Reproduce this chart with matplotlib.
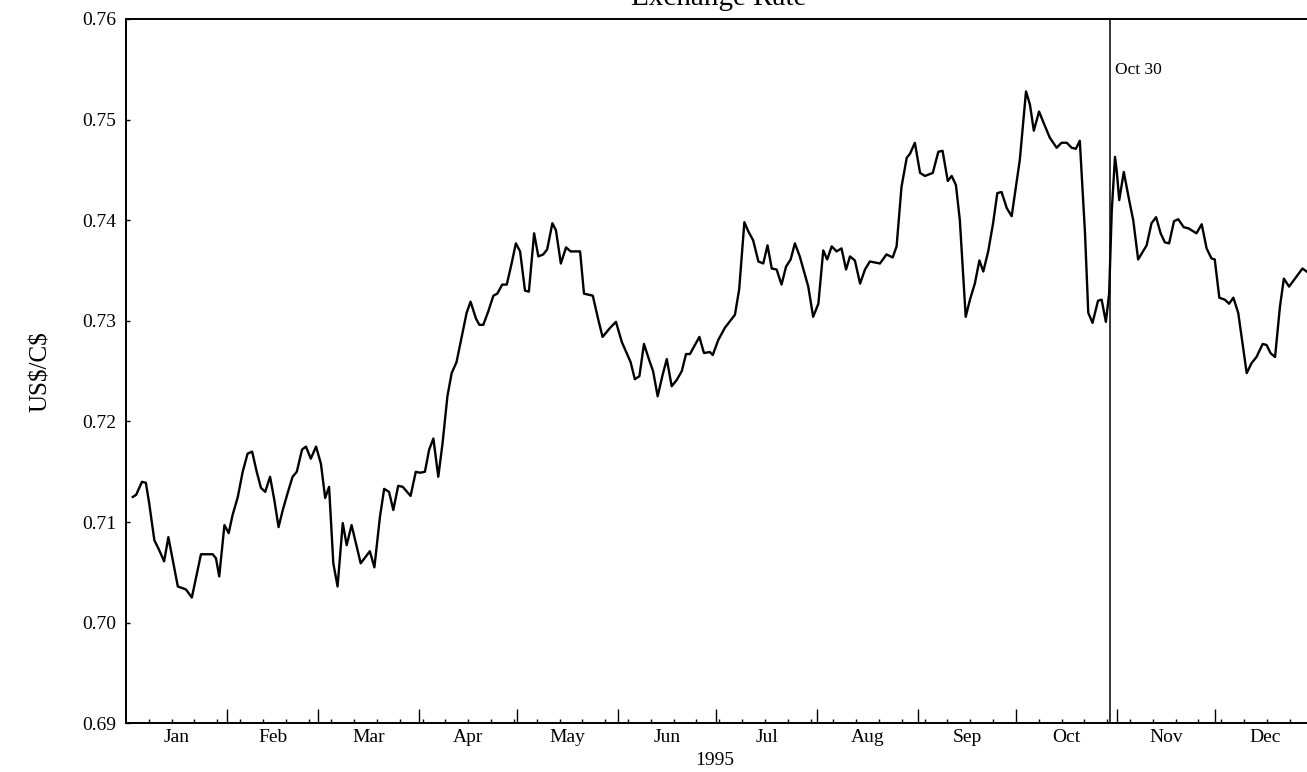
import matplotlib
matplotlib.use("Agg")
import matplotlib.pyplot as plt
import matplotlib.transforms as mtransforms

plt.rcParams["font.family"] = ["Liberation Serif", "DejaVu Serif"]

# day of year 1995 (Jan 1 = 0) and US$/C$ rate
days = [2.1, 3.1, 4.9, 6.1, 7.1, 8.7, 10.2, 11.7, 13.0, 15.9, 18.4, 20.2, 23.0, 26.6,
        27.6, 28.6, 30.2, 31.5, 32.7, 34.3, 35.8, 37.3, 38.7, 40.1, 41.4, 42.7, 44.2,
        45.5, 46.8, 48.1, 49.6, 51.1, 52.4, 54.0, 55.2, 56.7, 58.3, 59.8, 61.1, 62.3,
        63.6, 64.9, 66.5, 67.7, 69.2, 72.0, 74.8, 76.2, 77.9, 79.2, 80.7, 82.0, 83.5,
        84.9, 87.3, 88.9, 90.2, 91.7, 93.0, 94.3, 95.8, 97.1, 98.6, 99.9, 101.4, 104.5,
        105.7, 107.4, 108.4, 109.6, 111.1, 112.7, 113.9, 115.4, 116.8, 118.3, 119.6,
        120.9, 122.4, 123.6, 125.2, 126.5, 128.0, 129.2, 130.8, 131.9, 133.4, 135.0,
        136.4, 139.3, 140.5, 143.2, 144.9, 146.2, 148.5, 150.3, 152.1, 154.8, 156.1,
        157.5, 158.9, 160.5, 161.7, 163.1, 164.6, 165.9, 167.4, 168.9, 170.5, 171.8,
        173.0, 175.9, 177.3, 179.1, 180.0, 181.7, 183.7, 186.8, 188.1, 189.7, 190.9,
        192.4, 194.0, 195.5, 196.8, 198.1, 199.6, 201.1, 202.5, 203.9, 205.2, 206.7,
        209.3, 210.8, 212.4, 213.9, 215.1, 216.5, 218.0, 219.5, 220.9, 222.1, 223.6,
        225.2, 226.7, 228.2, 231.3, 233.3, 235.2, 236.4, 237.9, 239.5, 240.5, 242.0,
        243.6, 245.1, 247.5, 249.2, 250.5, 252.1, 253.3, 254.6, 255.8, 257.6, 258.9,
        260.4, 261.8, 263.0, 264.5, 266.0, 267.3, 268.6, 270.2, 271.7, 274.2, 276.1,
        277.3, 278.5, 280.1, 281.6, 283.4, 285.5, 287.0, 288.6, 290.1, 291.4, 292.6,
        294.2, 295.2, 296.5, 298.2, 299.3, 300.6, 301.6, 302.4, 303.4, 303.9, 304.7,
        306.1, 307.8, 309.0, 310.5, 313.1, 314.6, 316.0, 317.4, 318.7, 320.0, 321.5,
        322.8, 324.5, 325.9, 328.4, 330.0, 331.5, 333.0, 334.0, 335.4, 337.1, 338.4,
        339.7, 341.2, 343.8, 345.3, 346.8, 348.7, 349.9, 351.1, 352.5, 354.0, 355.2,
        356.8, 359.1, 360.9, 362.2]
rate = [0.7125, 0.7127, 0.7140, 0.7139, 0.7119, 0.7082, 0.7072, 0.7061, 0.7085, 0.7036,
        0.7033, 0.7025, 0.7068, 0.7068, 0.7064, 0.7046, 0.7097, 0.7089, 0.7107, 0.7125,
        0.7150, 0.7168, 0.7170, 0.7150, 0.7134, 0.7130, 0.7145, 0.7122, 0.7095, 0.7112,
        0.7129, 0.7145, 0.7150, 0.7172, 0.7175, 0.7163, 0.7175, 0.7158, 0.7124, 0.7135,
        0.7059, 0.7036, 0.7099, 0.7077, 0.7097, 0.7059, 0.7071, 0.7055, 0.7105, 0.7133,
        0.7130, 0.7112, 0.7136, 0.7135, 0.7126, 0.7150, 0.7149, 0.7150, 0.7172, 0.7183,
        0.7145, 0.7178, 0.7225, 0.7248, 0.7259, 0.7308, 0.7319, 0.7302, 0.7296, 0.7296,
        0.7309, 0.7325, 0.7327, 0.7336, 0.7336, 0.7357, 0.7377, 0.7369, 0.7330, 0.7329,
        0.7387, 0.7364, 0.7366, 0.7371, 0.7397, 0.7390, 0.7357, 0.7373, 0.7369, 0.7369,
        0.7327, 0.7325, 0.7301, 0.7284, 0.7293, 0.7299, 0.7279, 0.7259, 0.7242, 0.7245,
        0.7277, 0.7261, 0.7250, 0.7225, 0.7246, 0.7262, 0.7235, 0.7241, 0.7250, 0.7267,
        0.7267, 0.7284, 0.7268, 0.7269, 0.7266, 0.7281, 0.7293, 0.7306, 0.7331, 0.7398,
        0.7389, 0.7380, 0.7359, 0.7357, 0.7375, 0.7352, 0.7351, 0.7336, 0.7354, 0.7361,
        0.7377, 0.7364, 0.7334, 0.7304, 0.7317, 0.7370, 0.7361, 0.7374, 0.7369, 0.7372,
        0.7351, 0.7364, 0.7360, 0.7337, 0.7351, 0.7359, 0.7357, 0.7366, 0.7363, 0.7374,
        0.7433, 0.7462, 0.7466, 0.7477, 0.7447, 0.7444, 0.7447, 0.7468, 0.7469, 0.7439,
        0.7444, 0.7435, 0.7400, 0.7304, 0.7321, 0.7337, 0.7360, 0.7349, 0.7369, 0.7397,
        0.7427, 0.7428, 0.7412, 0.7404, 0.7460, 0.7528, 0.7515, 0.7489, 0.7508, 0.7496,
        0.7482, 0.7472, 0.7477, 0.7477, 0.7472, 0.7471, 0.7479, 0.7387, 0.7308, 0.7298,
        0.7320, 0.7321, 0.7299, 0.7327, 0.7409, 0.7463, 0.7450, 0.7420, 0.7448, 0.7419,
        0.7400, 0.7361, 0.7375, 0.7397, 0.7403, 0.7387, 0.7378, 0.7377, 0.7399, 0.7401,
        0.7393, 0.7392, 0.7387, 0.7396, 0.7372, 0.7362, 0.7361, 0.7323, 0.7321, 0.7317,
        0.7323, 0.7308, 0.7248, 0.7258, 0.7264, 0.7277, 0.7276, 0.7268, 0.7264, 0.7314,
        0.7342, 0.7334, 0.7344, 0.7352, 0.7349]

months = ["Jan", "Feb", "Mar", "Apr", "May", "Jun", "Jul", "Aug", "Sep", "Oct", "Nov", "Dec"]
month_starts = [0, 31, 59, 90, 120, 151, 181, 212, 243, 273, 304, 334, 365]
week_ticks = list(range(7, 363, 7))
yticks = [0.69, 0.70, 0.71, 0.72, 0.73, 0.74, 0.75, 0.76]
event_day = 302  # Oct 30
event_label = "Oct 30"

fig = plt.figure(figsize=(13.07, 7.72), dpi=100)
ax = fig.add_axes([0.0964, 0.0631, 0.9036, 0.9123])

ax.plot(days, rate, color="black", lw=1.7)
ax.axvline(event_day, color="black", lw=1.1)
ax.text(event_day + 1.5, 0.7549, event_label, fontsize=12.5, va="center", ha="left")

ax.set_xlim(0, 362.3)
ax.set_ylim(0.69, 0.76)
ax.set_yticks(yticks)
ax.set_yticklabels([f"{v:.2f}" for v in yticks], fontsize=14)
ax.set_xticks(month_starts[1:-1])
ax.set_xticklabels([])
ax.set_xticks(week_ticks, minor=True)
ax.tick_params(axis="x", which="major", direction="in", length=10, width=1)
ax.tick_params(axis="x", which="minor", direction="in", length=3, width=1)
ax.tick_params(axis="y", which="major", direction="in", length=3, width=1, pad=7)
ax.spines["right"].set_visible(False)
for s in ("left", "top", "bottom"):
    ax.spines[s].set_linewidth(1.4)

trans = mtransforms.blended_transform_factory(ax.transData, ax.transAxes)
for i, m in enumerate(months):
    mid = (month_starts[i] + month_starts[i + 1]) / 2
    ax.text(mid, -0.02, m, transform=trans, ha="center", va="center", fontsize=14)
ax.text(180.5, -0.053, "1995", transform=trans, ha="center", va="center", fontsize=14)

ax.set_ylabel(r"US\$/C\$", fontsize=18, labelpad=22)
fig.text(0.550, 0.9935, "Exchange Rate", ha="center", va="baseline", fontsize=21)

fig.savefig("out.png", dpi=100)
